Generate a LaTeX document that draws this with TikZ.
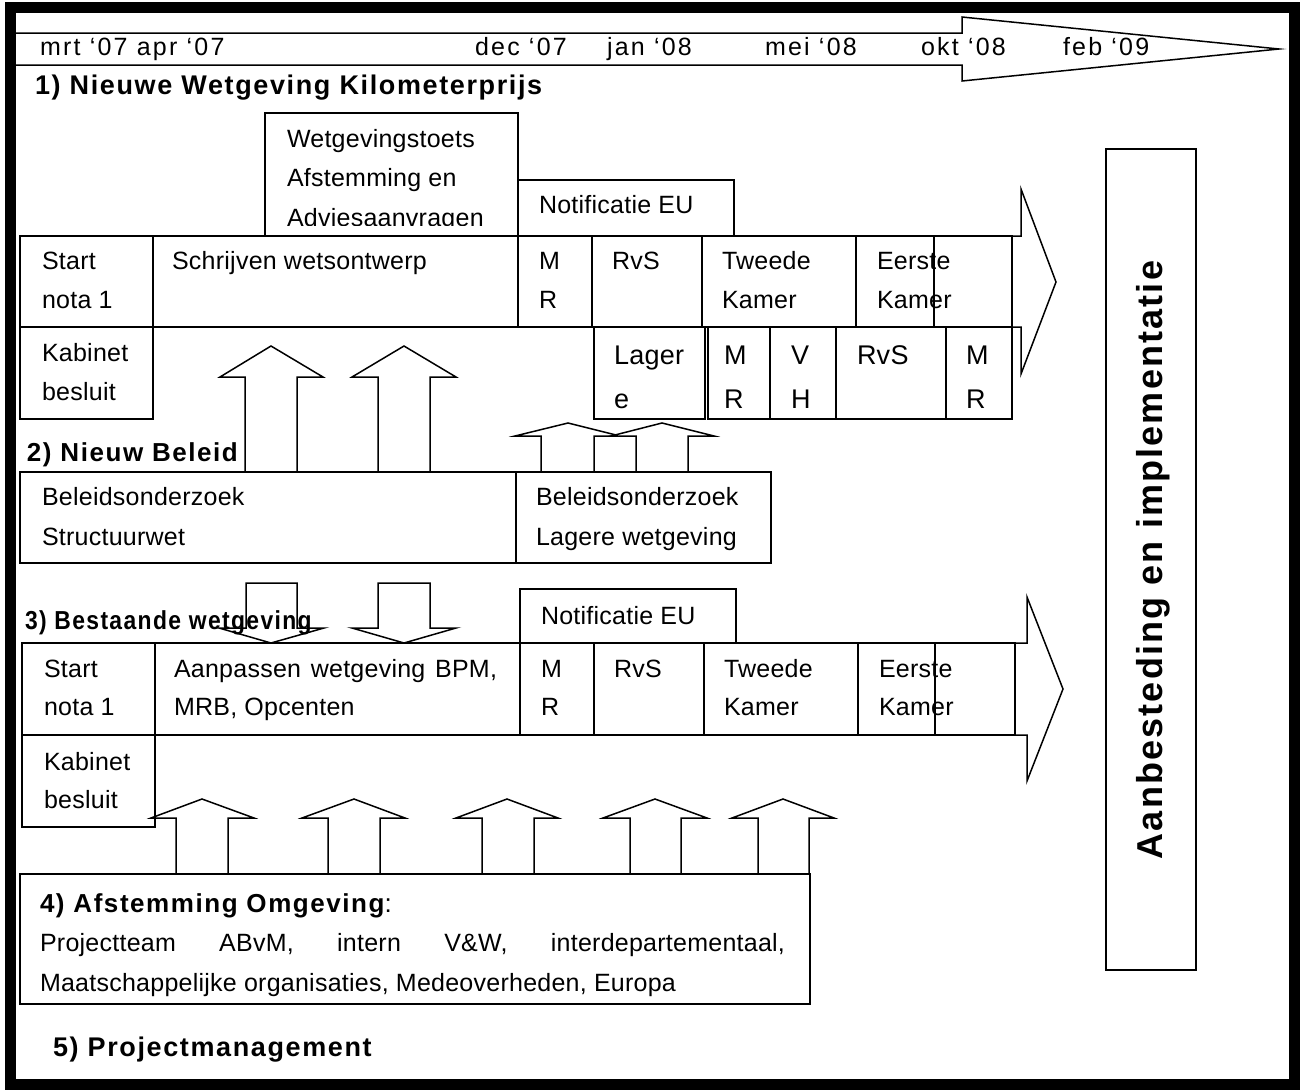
\documentclass[tikz,border=0pt]{standalone}
\usepackage{fontspec}
\setmainfont{Liberation Sans}[LetterSpace=1,BoldFeatures={LetterSpace=6}]
\begin{document}
\begin{tikzpicture}[x=1pt,y=-1pt,
  box/.style={draw,line width=1.5pt,fill=white,inner sep=0pt,outer sep=0pt,anchor=north west},
  txt/.style={anchor=base west,inner sep=0pt,outer sep=0pt,font=\fontsize{25}{29}\selectfont},
  bigtxt/.style={anchor=base west,inner sep=0pt,outer sep=0pt,font=\fontsize{27}{31}\selectfont},
  hd/.style={anchor=base west,inner sep=0pt,outer sep=0pt,font=\fontsize{27}{31}\selectfont\bfseries},
  tl/.style={anchor=base west,inner sep=0pt,outer sep=0pt,font=\fontsize{25}{29}\selectfont\addfontfeature{LetterSpace=9}},
  blk/.style={draw,line width=1.5pt,fill=white,line join=miter}
]
\useasboundingbox (0,0) rectangle (1304,1090);

% ---------- timeline arrow ----------
\draw[blk] (12,33) -- (962,33) -- (962,17) -- (1279,49) -- (962,81) -- (962,65) -- (12,65) -- cycle;
\node[tl] (t1) at (40,55.5) {mrt ‘07 apr ‘07};
\node[tl] (t2) at (475,55.5) {dec ‘07};
\node[tl] (t3) at (607,55.5) {jan ‘08};
\node[tl] (t4) at (765,55.5) {mei ‘08};
\node[tl] (t5) at (921,55.5) {okt ‘08};
\node[tl] (t6) at (1063,55.5) {feb ‘09};

% ---------- section 1 ----------
\node[hd] (h1) at (35,94.5) {1) Nieuwe Wetgeving Kilometerprijs};

\node[box,minimum width=253pt,minimum height=123pt] (wtoets) at (265,113) {};
\node[txt] (wt1) at (287,147.5) {Wetgevingstoets};
\node[txt] (wt2) at (287,186.5) {Afstemming en};
\begin{scope}
  \clip (265,190) rectangle (518,225);
  \node[txt] (wt3) at (287,226.5) {Adviesaanvragen};
\end{scope}

\node[box,minimum width=216pt,minimum height=56pt] (notif1) at (518,180) {};
\node[txt] (notif1t) at (539,213.5) {Notificatie EU};

\draw[blk] (20,236) -- (1021,236) -- (1021,189) -- (1056,282) -- (1021,374) -- (1021,327) -- (20,327) -- cycle;

\node[box,minimum width=133pt,minimum height=91pt] (start1) at (20,236) {};
\node[box,minimum width=365pt,minimum height=91pt] (schr) at (153,236) {};
\node[box,minimum width=74pt,minimum height=91pt] (mr1) at (518,236) {};
\node[box,minimum width=110pt,minimum height=91pt] (rvs1) at (592,236) {};
\node[box,minimum width=154pt,minimum height=91pt] (tk1) at (702,236) {};
\node[box,minimum width=156pt,minimum height=91pt] (ek1) at (856,236) {};
\node[txt] (start1a) at (42,269.5) {Start};
\node[txt] (start1b) at (42,308.5) {nota 1};
\node[txt] (schrt) at (172,269.5) {Schrijven wetsontwerp};
\node[txt] (mr1a) at (539,269.5) {M};
\node[txt] (mr1b) at (539,308.5) {R};
\node[txt] (rvs1t) at (612,269.5) {RvS};
\node[txt] (tk1a) at (722,269.5) {Tweede};
\node[txt] (tk1b) at (722,308.5) {Kamer};
\node[txt] (ek1a) at (877,269.5) {Eerste};
\node[txt] (ek1b) at (877,308.5) {Kamer};
\draw[line width=1.5pt] (934,236) rectangle (1012,327);

\node[box,minimum width=133pt,minimum height=92pt] (kab1) at (20,327) {};
\node[txt] (kab1a) at (42,361.5) {Kabinet};
\node[txt] (kab1b) at (42,400.5) {besluit};
\node[box,minimum width=111pt,minimum height=92pt] (lag) at (594,327) {};
\node[box,minimum width=62pt,minimum height=92pt] (mr2) at (708,327) {};
\node[box,minimum width=66pt,minimum height=92pt] (vh) at (770,327) {};
\node[box,minimum width=110pt,minimum height=92pt] (rvs2) at (836,327) {};
\node[box,minimum width=66pt,minimum height=92pt] (mr3) at (946,327) {};
\node[bigtxt] (laga) at (614,364.5) {Lager};
\node[bigtxt] (lagb) at (614,408.5) {e};
\node[bigtxt] (mr2a) at (724,364.5) {M};
\node[bigtxt] (mr2b) at (724,408.5) {R};
\node[bigtxt] (vha) at (791,364.5) {V};
\node[bigtxt] (vhb) at (791,408.5) {H};
\node[bigtxt] (rvs2t) at (857,364.5) {RvS};
\node[bigtxt] (mr3a) at (966,364.5) {M};
\node[bigtxt] (mr3b) at (966,408.5) {R};

% up arrows into section 1
\draw[blk] (245,472) -- (245,377) -- (220,377) -- (271,346) -- (323,377) -- (297,377) -- (297,472) -- cycle;
\draw[blk] (378,472) -- (378,377) -- (352,377) -- (404,346) -- (456,377) -- (430,377) -- (430,472) -- cycle;
\draw[blk] (541,472) -- (541,436) -- (515,436) -- (568,423) -- (620,436) -- (594,436) -- (594,472) -- cycle;
\draw[blk] (636,472) -- (636,436) -- (611,436) -- (662,423) -- (714,436) -- (688,436) -- (688,472) -- cycle;

% ---------- section 2 ----------
\node[hd,font=\fontsize{26}{30}\selectfont\bfseries] (h2) at (27,461) {2) Nieuw Beleid};
\node[box,minimum width=496pt,minimum height=91pt] (bel1) at (20,472) {};
\node[box,minimum width=255pt,minimum height=91pt] (bel2) at (516,472) {};
\node[txt] (bel1a) at (42,505.5) {Beleidsonderzoek};
\node[txt] (bel1b) at (42,545.5) {Structuurwet};
\node[txt] (bel2a) at (536,505.5) {Beleidsonderzoek};
\node[txt] (bel2b) at (536,545.5) {Lagere wetgeving};

% down arrows
\draw[blk] (246,583) -- (297,583) -- (297,628) -- (324,628) -- (271,643) -- (219,628) -- (246,628) -- cycle;
\draw[blk] (378,583) -- (430,583) -- (430,628) -- (456,628) -- (404,643) -- (352,628) -- (378,628) -- cycle;

% ---------- section 3 ----------
\node[hd,font=\fontsize{26}{30}\selectfont\bfseries] (h3) at (25,629) {\scalebox{0.88}[1]{3) Bestaande wetgeving}};

\node[box,minimum width=216pt,minimum height=54pt] (notif2) at (520,589) {};
\node[txt] (notif2t) at (541,624.5) {Notificatie EU};

\draw[blk] (22,643) -- (1027,643) -- (1027,597) -- (1063,689) -- (1027,781) -- (1027,735) -- (22,735) -- cycle;

\node[box,minimum width=133pt,minimum height=92pt] (start3) at (22,643) {};
\node[box,minimum width=365pt,minimum height=92pt] (aanp) at (155,643) {};
\node[box,minimum width=74pt,minimum height=92pt] (mr4) at (520,643) {};
\node[box,minimum width=110pt,minimum height=92pt] (rvs3) at (594,643) {};
\node[box,minimum width=154pt,minimum height=92pt] (tk3) at (704,643) {};
\node[box,minimum width=157pt,minimum height=92pt] (ek3) at (858,643) {};
\node[txt] (start3a) at (44,677.5) {Start};
\node[txt] (start3b) at (44,715.5) {nota 1};
\node[txt] (aanpa) at (174,677.5) {\makebox[323pt][s]{Aanpassen wetgeving BPM,}};
\node[txt] (aanpb) at (174,715.5) {MRB, Opcenten};
\node[txt] (mr4a) at (541,677.5) {M};
\node[txt] (mr4b) at (541,715.5) {R};
\node[txt] (rvs3t) at (614,677.5) {RvS};
\node[txt] (tk3a) at (724,677.5) {Tweede};
\node[txt] (tk3b) at (724,715.5) {Kamer};
\node[txt] (ek3a) at (879,677.5) {Eerste};
\node[txt] (ek3b) at (879,715.5) {Kamer};
\draw[line width=1.5pt] (935,643) rectangle (1015,735);

\node[box,minimum width=133pt,minimum height=92pt] (kab3) at (22,735) {};
\node[txt] (kab3a) at (44,770.5) {Kabinet};
\node[txt] (kab3b) at (44,808.5) {besluit};

% up arrows from section 4
\draw[blk] (176,874) -- (176,818) -- (151,818) -- (202,799) -- (254,818) -- (228,818) -- (228,874) -- cycle;
\draw[blk] (328,874) -- (328,818) -- (302,818) -- (354,799) -- (405,818) -- (380,818) -- (380,874) -- cycle;
\draw[blk] (482,874) -- (482,818) -- (456,818) -- (507,799) -- (558,818) -- (534,818) -- (534,874) -- cycle;
\draw[blk] (630,874) -- (630,818) -- (603,818) -- (655,799) -- (707,818) -- (681,818) -- (681,874) -- cycle;
\draw[blk] (758,874) -- (758,818) -- (732,818) -- (783,799) -- (834,818) -- (809,818) -- (809,874) -- cycle;

% ---------- section 4 ----------
\node[box,minimum width=790pt,minimum height=130pt] (afst) at (20,874) {};
\node[txt] (h4) at (40,912) {\fontsize{26}{30}\selectfont\bfseries\addfontfeature{LetterSpace=4}4) Afstemming Omgeving\mdseries :};
\node[txt] (afst1) at (40,951.5) {\makebox[745pt][s]{Projectteam ABvM, intern V\&W, interdepartementaal,}};
\node[txt] (afst2) at (40,991.5) {Maatschappelijke organisaties, Medeoverheden, Europa};

% ---------- section 5 ----------
\node[hd] (h5) at (53,1056) {5) Projectmanagement};

% ---------- right panel ----------
\node[box,minimum width=90pt,minimum height=821pt] (impl) at (1106,149) {};
\node[rotate=90,inner sep=0pt,font=\fontsize{36}{40}\selectfont\bfseries\addfontfeature{LetterSpace=3}] (implt) at (1153,560) {Aanbesteding en implementatie};

% ---------- frame ----------
\draw[line width=11pt] (10.5,7.5) rectangle (1294.5,1084.5);
\end{tikzpicture}
\end{document}
